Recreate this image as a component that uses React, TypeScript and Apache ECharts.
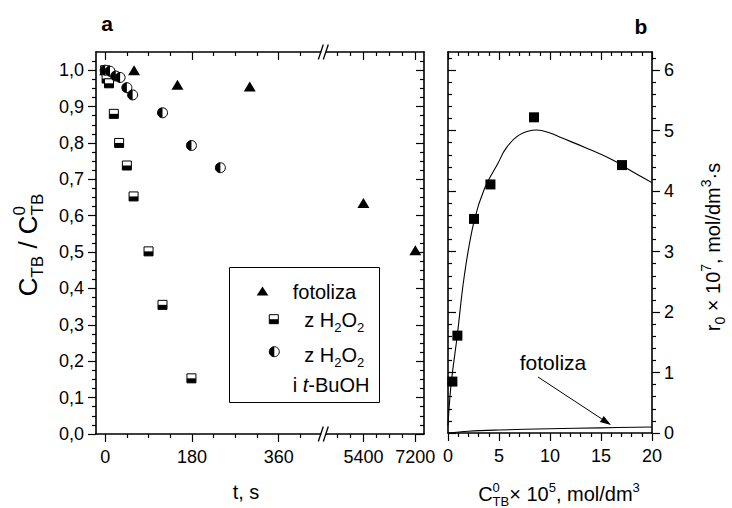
import React, { useEffect, useRef } from 'react';
import * as echarts from 'echarts';

// ---------- Panel a: C_TB / C0_TB vs t ----------
const xMajorShort = [0, 180, 360];
const xMinorShort = [45, 90, 135, 225, 270, 315, 405];
const xMajorLong = [5400, 7200];
const xMinorLong = [4500, 4950, 5850, 6300, 6750];
const yMajorA = [0, 0.1, 0.2, 0.3, 0.4, 0.5, 0.6, 0.7, 0.8, 0.9, 1.0];

const tFotolizaShort = [0, 60, 150, 300];
const cFotolizaShort = [1.0, 1.0, 0.96, 0.955];
const tFotolizaLong = [5400, 7200];
const cFotolizaLong = [0.635, 0.505];
const tH2O2 = [0, 3, 8, 18, 29, 45, 59, 90, 119, 179];
const cH2O2 = [1.0, 0.977, 0.964, 0.88, 0.8, 0.738, 0.653, 0.502, 0.355, 0.153];
const tBuOH = [0, 10, 22, 31, 45, 57, 119, 179, 239];
const cBuOH = [1.0, 0.997, 0.984, 0.98, 0.952, 0.932, 0.883, 0.793, 0.732];

// ---------- Panel b: r0 vs C0_TB ----------
const yMajorB = [0, 1, 2, 3, 4, 5, 6];
const cPoints = [0.43, 0.92, 2.55, 4.16, 8.43, 17.06];
const rPoints = [0.85, 1.61, 3.54, 4.11, 5.22, 4.43];
const cFit = [0, 0.3, 0.9, 1.6, 2.55, 3.6, 4.9, 5.7, 7.0, 8.7, 10.0, 11.0, 13.6, 16.2, 18.1, 20];
const rFit = [0.12, 0.8, 1.6, 2.6, 3.5, 4.05, 4.46, 4.71, 4.93, 5.01, 4.96, 4.89, 4.71, 4.51, 4.32, 4.14];
const cFoto = [0, 2, 5, 10, 15, 20];
const rFoto = [0, 0.03, 0.05, 0.07, 0.085, 0.1];

const FONT = '"Liberation Sans", Arial, Helvetica, sans-serif';
const zip = (a: number[], b: number[]) => a.map((v, i) => [v, b[i]]);

const yMinorA: number[] = [];
for (let i = 1; i <= 41; i++) if (i % 4 !== 0) yMinorA.push(+(i * 0.025).toFixed(3));
const yMinorB: number[] = [];
for (let i = 1; i <= 31; i++) if (i % 5 !== 0) yMinorB.push(+(i * 0.2).toFixed(2));

let _ctx: CanvasRenderingContext2D | null = null;
function textWidth(s: string, size: number, italic = false) {
  if (!_ctx) _ctx = document.createElement('canvas').getContext('2d');
  _ctx!.font = `${italic ? 'italic ' : ''}${size}px "Liberation Sans"`;
  return _ctx!.measureText(s).width;
}

type Piece = { t: string; k?: 'n' | 'sup' | 'sub'; stack?: boolean; italic?: boolean };
function compose(pieces: Piece[], main: number, small: number, anchor: 'left' | 'center'): any[] {
  const items: { p: Piece; x: number }[] = [];
  let cursor = 0, lastX = 0, lastW = 0;
  for (const p of pieces) {
    const size = p.k && p.k !== 'n' ? small : main;
    const w = textWidth(p.t, size, p.italic);
    if (p.stack) {
      items.push({ p, x: lastX });
      const nw = Math.max(lastW, w);
      cursor = lastX + nw;
      lastW = nw;
    } else {
      items.push({ p, x: cursor });
      lastX = cursor;
      lastW = w;
      cursor += w;
    }
  }
  const shift = anchor === 'center' ? -cursor / 2 : 0;
  return items.map(({ p, x }) => {
    const size = p.k && p.k !== 'n' ? small : main;
    const base = p.k === 'sup' ? -0.44 * main : p.k === 'sub' ? 0.26 * main : 0;
    return {
      type: 'text', x: x + shift, y: base - 0.35 * size, silent: true,
      style: {
        text: p.t, fontSize: size, lineHeight: size, fontFamily: FONT, fontStyle: p.italic ? 'italic' : 'normal',
        fill: '#000', textAlign: 'left', textVerticalAlign: 'middle',
      },
    };
  });
}

function halfSquare(cx: number, cy: number, s: number) {
  return {
    type: 'group',
    children: [
      { type: 'rect', shape: { x: cx - s / 2, y: cy - s / 2, width: s, height: s }, style: { fill: '#fff', stroke: '#000', lineWidth: 1 } },
      { type: 'rect', shape: { x: cx - s / 2, y: cy, width: s, height: s / 2 }, style: { fill: '#000' } },
    ],
  };
}
function halfCircle(cx: number, cy: number, r: number) {
  return {
    type: 'group',
    children: [
      { type: 'circle', shape: { cx, cy, r }, style: { fill: '#fff', stroke: '#000', lineWidth: 1 } },
      { type: 'sector', shape: { cx, cy, r, r0: 0, startAngle: Math.PI / 2, endAngle: Math.PI * 1.5, clockwise: true }, style: { fill: '#000' } },
    ],
  };
}

const LINE = { color: '#000', width: 1.6 };
const TICK = { color: '#000', width: 1.2 };
const LABEL = { color: '#000', fontSize: 18, fontFamily: FONT };

function axis(o: {
  grid: number; min: number; max: number; pos: string; vals?: number[]; interval?: number;
  minor?: boolean; labels?: boolean; inside?: boolean; line?: boolean; fmt?: (v: number) => string; margin?: number;
}) {
  const tick: any = { show: true, inside: !!o.inside, length: o.minor ? 4 : 8, lineStyle: TICK };
  if (o.vals) tick.customValues = o.vals;
  const label: any = { show: !!o.labels, ...LABEL, margin: o.margin ?? 12, formatter: o.fmt ?? ((v: number) => String(v)) };
  if (o.labels && o.vals) label.customValues = o.vals;
  const a: any = {
    type: 'value', gridIndex: o.grid, min: o.min, max: o.max, position: o.pos,
    axisLine: { show: o.line !== false && !o.minor, onZero: false, lineStyle: LINE },
    axisTick: tick, axisLabel: label, splitLine: { show: false },
  };
  if (o.interval) {
    a.interval = o.interval;
    a.minorTick = { show: true, splitNumber: 5, length: 4, lineStyle: TICK };
  }
  return a;
}

function buildOption(): any {
  const xA = { min: -19, max: 452 };
  const xB = { min: 4000, max: 7500 };
  const yA = { min: 0, max: 1.05 };
  const yB = { min: 0, max: 6.3 };
  const commaFmt = (v: number) => v.toFixed(1).replace('.', ',');

  const xAxis = [
    axis({ grid: 0, ...xA, pos: 'bottom', vals: xMajorShort, labels: true, margin: 14 }),
    axis({ grid: 0, ...xA, pos: 'bottom', vals: xMinorShort, minor: true }),
    axis({ grid: 0, ...xA, pos: 'top', vals: xMajorShort, inside: true }),
    axis({ grid: 0, ...xA, pos: 'top', vals: xMinorShort, minor: true, inside: true }),
    axis({ grid: 1, ...xB, pos: 'bottom', vals: xMajorLong, labels: true, margin: 14 }),
    axis({ grid: 1, ...xB, pos: 'bottom', vals: xMinorLong, minor: true }),
    axis({ grid: 1, ...xB, pos: 'top', vals: xMajorLong, inside: true }),
    axis({ grid: 1, ...xB, pos: 'top', vals: xMinorLong, minor: true, inside: true }),
    axis({ grid: 2, min: 0, max: 20, pos: 'bottom', interval: 5, labels: true, margin: 14 }),
    axis({ grid: 2, min: 0, max: 20, pos: 'top', interval: 5, inside: true }),
  ];
  const yAxis = [
    axis({ grid: 0, ...yA, pos: 'left', vals: yMajorA, labels: true, fmt: commaFmt }),
    axis({ grid: 0, ...yA, pos: 'left', vals: yMinorA, minor: true }),
    axis({ grid: 1, ...yA, pos: 'right', vals: yMajorA, inside: true }),
    axis({ grid: 1, ...yA, pos: 'right', vals: yMinorA, minor: true, inside: true }),
    axis({ grid: 2, ...yB, pos: 'right', vals: yMajorB, labels: true }),
    axis({ grid: 2, ...yB, pos: 'right', vals: yMinorB, minor: true }),
    axis({ grid: 2, ...yB, pos: 'left', vals: yMajorB, inside: true }),
    axis({ grid: 2, ...yB, pos: 'left', vals: yMinorB, minor: true, inside: true }),
  ];

  const series: any[] = [
    {
      type: 'scatter', name: 'fotoliza', xAxisIndex: 0, yAxisIndex: 0, data: zip(tFotolizaShort, cFotolizaShort),
      symbol: 'triangle', symbolSize: [12, 10], itemStyle: { color: '#000', opacity: 1 }, z: 2,
    },
    {
      type: 'scatter', name: 'fotoliza', xAxisIndex: 4, yAxisIndex: 2, data: zip(tFotolizaLong, cFotolizaLong),
      symbol: 'triangle', symbolSize: [12, 10], itemStyle: { color: '#000', opacity: 1 }, z: 2,
    },
    {
      type: 'custom', name: 'z H2O2', xAxisIndex: 0, yAxisIndex: 0, data: zip(tH2O2, cH2O2), encode: { x: 0, y: 1 }, clip: false, z: 3,
      renderItem: (_p: any, api: any) => { const c = api.coord([api.value(0), api.value(1)]); return halfSquare(c[0], c[1], 9); },
    },
    {
      type: 'custom', name: 'z H2O2 i t-BuOH', xAxisIndex: 0, yAxisIndex: 0, data: zip(tBuOH, cBuOH), encode: { x: 0, y: 1 }, clip: false, z: 4,
      renderItem: (_p: any, api: any) => { const c = api.coord([api.value(0), api.value(1)]); return halfCircle(c[0], c[1], 5); },
    },
    {
      type: 'line', name: 'fit', xAxisIndex: 8, yAxisIndex: 4, data: zip(cFit, rFit), smooth: 0.4, showSymbol: false,
      lineStyle: { color: '#000', width: 1.1 }, z: 2,
    },
    {
      type: 'line', name: 'fotoliza b', xAxisIndex: 8, yAxisIndex: 4, data: zip(cFoto, rFoto), smooth: 0.4, showSymbol: false,
      lineStyle: { color: '#000', width: 1.1 }, z: 2,
    },
    {
      type: 'scatter', name: 'r0', xAxisIndex: 8, yAxisIndex: 4, data: zip(cPoints, rPoints),
      symbol: 'rect', symbolSize: 10, itemStyle: { color: '#000', opacity: 1 }, z: 3,
    },
  ];

  const breakMark = (yc: number) => [
    { type: 'rect', shape: { x: 321.2, y: yc - 2.5, width: 4.6, height: 5 }, style: { fill: '#fff' }, z: 100 },
    { type: 'line', shape: { x1: 318.3, y1: yc + 7.5, x2: 323.3, y2: yc - 7.5 }, style: { stroke: '#000', lineWidth: 1.3 }, z: 101 },
    { type: 'line', shape: { x1: 323.3, y1: yc + 7.5, x2: 328.3, y2: yc - 7.5 }, style: { stroke: '#000', lineWidth: 1.3 }, z: 101 },
  ];

  // arrow
  const ax1 = 538, ay1 = 377, ax2 = 611, ay2 = 425;
  const len = Math.hypot(ax2 - ax1, ay2 - ay1);
  const ux = (ax2 - ax1) / len, uy = (ay2 - ay1) / len;
  const bx = ax2 - 11 * ux, by = ay2 - 11 * uy;
  const px = -uy * 3.5, py = ux * 3.5;

  const graphic: any[] = [
    ...breakMark(434),
    ...breakMark(52),
    // panel letters
    { type: 'text', x: 107, y: 23, style: { text: 'a', fontSize: 21, fontWeight: 'bold', fontFamily: FONT, fill: '#000', textAlign: 'center', textVerticalAlign: 'middle' } },
    { type: 'text', x: 641, y: 26, style: { text: 'b', fontSize: 21, fontWeight: 'bold', fontFamily: FONT, fill: '#000', textAlign: 'center', textVerticalAlign: 'middle' } },
    // legend box
    { type: 'rect', shape: { x: 229.5, y: 267.5, width: 150, height: 135 }, style: { fill: 'none', stroke: '#000', lineWidth: 1 } },
    { type: 'polygon', shape: { points: [[256.7, 295.5], [268.3, 295.5], [262.5, 286.5]] }, style: { fill: '#000' } },
    halfSquare(273.8, 319.2, 9),
    halfCircle(274.3, 351.7, 5),
    { type: 'group', x: 292.7, y: 299, children: compose([{ t: 'fotoliza' }], 20, 13, 'left') },
    { type: 'group', x: 304.3, y: 326.7, children: compose([{ t: 'z H' }, { t: '2', k: 'sub' }, { t: 'O' }, { t: '2', k: 'sub' }], 20, 13, 'left') },
    { type: 'group', x: 304.3, y: 361.7, children: compose([{ t: 'z H' }, { t: '2', k: 'sub' }, { t: 'O' }, { t: '2', k: 'sub' }], 20, 13, 'left') },
    { type: 'group', x: 292.7, y: 391.7, children: compose([{ t: 'i ' }, { t: 't', italic: true }, { t: '-BuOH' }], 20, 13, 'left') },
    // axis titles
    { type: 'group', x: 246, y: 499, children: compose([{ t: 't, s' }], 20, 13, 'center') },
    {
      type: 'group', x: 559, y: 500.5,
      children: compose([
        { t: 'C' }, { t: '0', k: 'sup' }, { t: 'TB', k: 'sub', stack: true }, { t: '× 10' }, { t: '5', k: 'sup' },
        { t: ', mol/dm' }, { t: '3', k: 'sup' },
      ], 20, 13, 'center'),
    },
    {
      type: 'group', x: 37, y: 245, rotation: Math.PI / 2,
      children: compose([
        { t: 'C' }, { t: 'TB', k: 'sub' }, { t: ' / C' }, { t: '0', k: 'sup' }, { t: 'TB', k: 'sub', stack: true },
      ], 26, 17, 'center'),
    },
    {
      type: 'group', x: 720, y: 247, rotation: Math.PI / 2,
      children: compose([
        { t: 'r' }, { t: '0', k: 'sub' }, { t: ' × 10' }, { t: '7', k: 'sup' }, { t: ', mol/dm' }, { t: '3', k: 'sup' }, { t: '·s' },
      ], 20, 14, 'center'),
    },
    // annotation
    { type: 'text', x: 553, y: 370 - 0.35 * 21, style: { text: 'fotoliza', fontSize: 21, fontFamily: FONT, fill: '#000', textAlign: 'center', textVerticalAlign: 'middle' } },
    { type: 'line', shape: { x1: ax1, y1: ay1, x2: bx, y2: by }, style: { stroke: '#000', lineWidth: 1 } },
    { type: 'polygon', shape: { points: [[ax2, ay2], [bx + px, by + py], [bx - px, by - py]] }, style: { fill: '#000' } },
  ];

  return {
    animation: false,
    backgroundColor: '#fff',
    textStyle: { fontFamily: FONT },
    grid: [
      { left: 96, top: 52, width: 227, height: 382 },
      { left: 323, top: 52, width: 101, height: 382 },
      { left: 448, top: 52, width: 204, height: 381 },
    ],
    xAxis, yAxis, series, graphic,
  };
}

export default function App() {
  const ref = useRef<HTMLDivElement>(null);
  useEffect(() => {
    const chart = echarts.init(ref.current!, null, { renderer: 'svg' });
    chart.setOption(buildOption());
    return () => chart.dispose();
  }, []);
  return <div ref={ref} style={{ position: 'absolute', left: 0, top: 0, width: 732, height: 508 }} />;
}
